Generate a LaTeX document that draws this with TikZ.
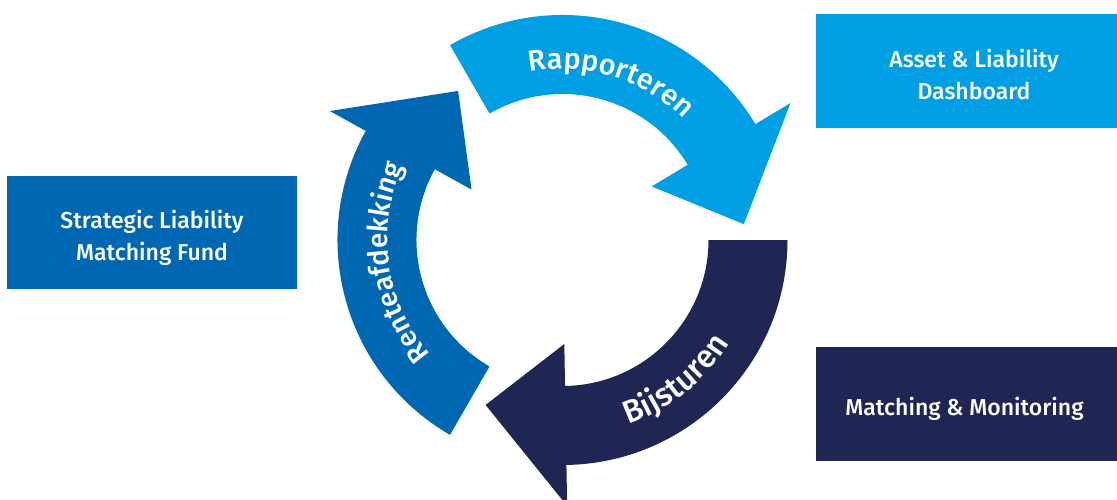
\documentclass[tikz,border=0pt]{standalone}
\usepackage{fontspec}
\setmainfont{Fira Sans}[UprightFont=* Medium]
\usepackage{tikz}
\usetikzlibrary{decorations.text}
\definecolor{RingLight}{RGB}{0,159,227}
\definecolor{RingMid}{RGB}{0,104,178}
\definecolor{RingDark}{RGB}{32,38,84}
\newcommand{\ringfont}[1]{\fontsize{#1}{#1}\selectfont\color{white}}
% one curved arrow of the ring: #1 = angle of the tail, #2 = colour
\newcommand{\ringarrow}[2]{%
  \fill[#2] (#1:225pt) arc[start angle=#1, end angle={#1-89}, radius=225pt]
    -- ({#1-89}:266pt) -- ({#1-115}:182pt) -- ({#1-89}:104pt) -- ({#1-89}:146pt)
    arc[start angle={#1-89}, end angle=#1, radius=146pt] -- cycle;}
\tikzset{
  infobox/.style={rectangle, inner sep=0pt},
  boxtext/.style={inner sep=0pt, align=center, text=white, font=\fontsize{23}{32}\selectfont},
  ringlabel/.style 2 args={decorate, decoration={text along path, text align=center, text={|\ringfont{#2}|#1}}}
}

\begin{document}
\begin{tikzpicture}[x=1pt, y=1pt]
  \useasboundingbox (0,0) rectangle (1117,499);
  \clip (0,0) rectangle (1117,499);

  % Boxes
  \node[infobox, fill=RingMid, minimum width=290pt, minimum height=113pt] (fund) at (152,266.5) {};
  \node[infobox, fill=RingLight, minimum width=316pt, minimum height=114pt] (dashboard) at (974,428) {};
  \node[infobox, fill=RingDark, minimum width=301pt, minimum height=114pt] (monitoring) at (966.5,95) {};

  \node[boxtext] (fundtext) at ([yshift=-5pt]fund.center) {Strategic Liability\\Matching Fund};
  \node[boxtext] (dashboardtext) at ([yshift=-4pt]dashboard.center) {Asset \& Liability\\Dashboard};
  \node[boxtext] (monitoringtext) at ([xshift=-2pt, yshift=-5pt]monitoring.center) {Matching \& Monitoring};

  % Cycle
  \begin{scope}[shift={(562.5,259)}]
    \ringarrow{120}{RingLight}
    \ringarrow{0}{RingDark}
    \ringarrow{240}{RingMid}

    % Labels on the arrows
    \path[ringlabel={Rapporteren}{29}] (133:171pt) arc[start angle=133, end angle=13, radius=171pt];
    \path[ringlabel={Bijsturen}{32}] (-111:196pt) arc[start angle=-111, end angle=9, radius=196pt];
    \path[ringlabel={Renteafdekking}{28}] (248:175pt) arc[start angle=248, end angle=128, radius=175pt];
  \end{scope}
\end{tikzpicture}
\end{document}
